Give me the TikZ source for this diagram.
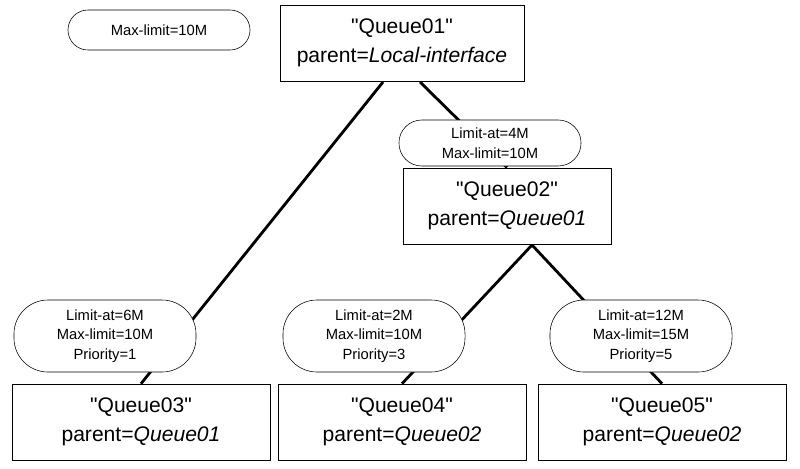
\documentclass[tikz,border=0pt]{standalone}
\usepackage{fontspec}
\setmainfont{Liberation Sans}[Ligatures=TeXOff]
\usetikzlibrary{positioning}
\pgfdeclarelayer{bg}
\pgfsetlayers{bg,main}

\begin{document}
\begin{tikzpicture}[x=0.025cm, y=-0.025cm,
    queue/.style={draw, fill=white, align=center, font=\fontsize{15}{21}\selectfont, minimum width=6.1cm, minimum height=1.9cm, inner sep=0pt},
    limit/.style={draw, fill=white, rounded corners=0.5cm, align=center, font=\fontsize{10.5}{14}\selectfont, minimum width=4.55cm, minimum height=1cm, inner sep=2pt}]
    \useasboundingbox (0,0) rectangle (800,468);
			% queues
			\node[queue] (q01) at (402,43) {"Queue01"\\parent=\textit{Local-interface}};
			\node[queue, minimum width=5.2cm] (q02) at (507,206) {"Queue02"\\parent=\textit{Queue01}};
			\node[queue, minimum width=6.45cm] (q03) at (141,422) {"Queue03"\\parent=\textit{Queue01}};
			\node[queue, minimum width=6.2cm] (q04) at (402,422) {"Queue04"\\parent=\textit{Queue02}};
			\node[queue, minimum width=6.2cm] (q05) at (662,422) {"Queue05"\\parent=\textit{Queue02}};
			% limits
			\node[limit, minimum height=1cm] (lim01) at (159,30) {Max-limit=10M};
			\node[limit, minimum height=1.15cm, rounded corners=0.57cm] (lim02) at (490,143) {Limit-at=4M\\Max-limit=10M};
			\node[limit, minimum height=1.8cm, rounded corners=0.85cm] (lim03) at (105,336) {Limit-at=6M\\Max-limit=10M\\Priority=1};
			\node[limit, minimum height=1.8cm, rounded corners=0.85cm] (lim04) at (374,336) {Limit-at=2M\\Max-limit=10M\\Priority=3};
			\node[limit, minimum height=1.8cm, rounded corners=0.85cm] (lim05) at (641,336) {Limit-at=12M\\Max-limit=15M\\Priority=5};
			% links
			\begin{pgfonlayer}{bg}
				\coordinate (a1) at (383,82);
				\coordinate (a2) at (420,82);
				\coordinate (a3) at (532,245);
				\draw[line width=2pt] (a1) -- (q03.north);
				\draw[line width=2pt] (a2) -- (q02.north);
				\draw[line width=2pt] (a3) -- (q04.north);
				\draw[line width=2pt] (a3) -- (q05.north);
			\end{pgfonlayer}
		\end{tikzpicture}
\end{document}
